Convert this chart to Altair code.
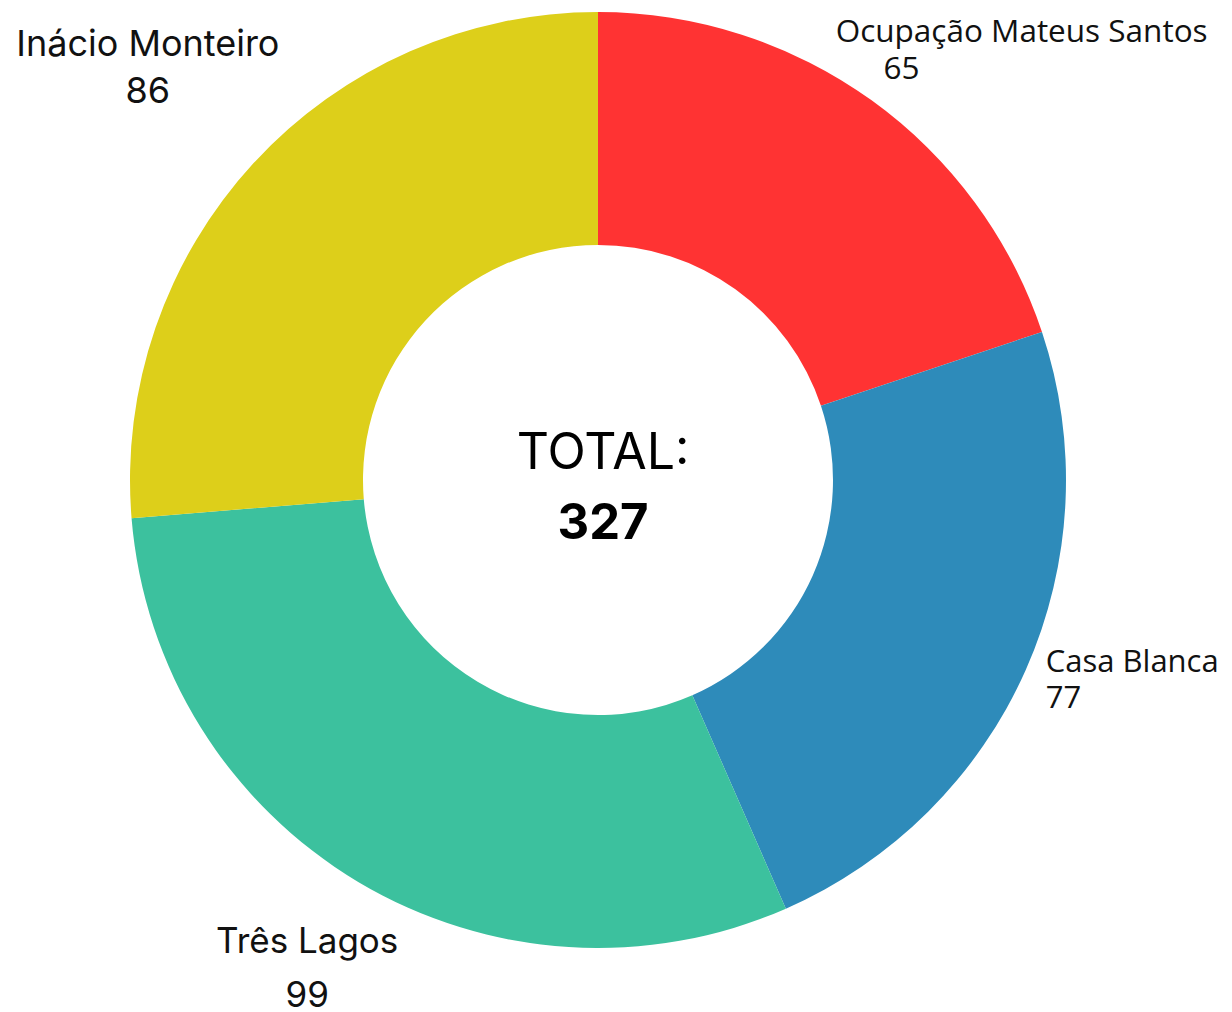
import altair as alt
import pandas as pd

categories = ["Ocupação Mateus Santos", "Casa Blanca", "Três Lagos", "Inácio Monteiro"]
values = [65, 77, 99, 86]
colors = ["#FF3333", "#2E8BBA", "#3CC19E", "#DDCF1A"]

df = pd.DataFrame({"cat": categories, "value": values, "order": list(range(len(categories)))})

OUTER = 468
INNER = 235

base = alt.Chart(df)

arcs = base.mark_arc(outerRadius=OUTER, innerRadius=INNER).encode(
    theta=alt.Theta("value:Q", stack=True),
    color=alt.Color("cat:N", scale=alt.Scale(domain=categories, range=colors), legend=None),
    order=alt.Order("order:Q"),
)

mid = base.transform_window(
    cum="sum(value)", sort=[alt.SortField("order")], frame=[None, 0]
).transform_joinaggregate(total="sum(value)").transform_calculate(
    mid="2*PI*(datum.cum - datum.value/2)/datum.total"
)

# label styling per category: (font, size, align, name dx, name dy, value dx, value dy)
label_style = {
    "Ocupação Mateus Santos": ("Open Sans", 31.5, "center", 150, -67, 30, -30),
    "Casa Blanca": ("Open Sans", 31, "left", 20, -7, 20, 29),
    "Três Lagos": ("Inter", 35, "center", -51, 60, -51, 114),
    "Inácio Monteiro": ("Inter", 36, "center", -106, -118, -106, -71),
}

layers = [arcs]
for cat, (font, size, align, ndx, ndy, vdx, vdy) in label_style.items():
    sub = mid.transform_filter(alt.datum.cat == cat)
    layers.append(
        sub.mark_text(font=font, fontSize=size, align=align, baseline="middle",
                      dx=ndx, dy=ndy, color="#111111").encode(
            theta=alt.Theta("mid:Q", scale=None),
            radius=alt.value(OUTER),
            text="cat:N",
        )
    )
    layers.append(
        sub.mark_text(font=font, fontSize=size, align=align, baseline="middle",
                      dx=vdx, dy=vdy, color="#111111").encode(
            theta=alt.Theta("mid:Q", scale=None),
            radius=alt.value(OUTER),
            text="value:Q",
        )
    )

total_base = base.transform_aggregate(total="sum(value)")
total_label = total_base.transform_calculate(lbl="'TOTAL:'").mark_text(
    font="Inter", fontSize=50, fontWeight=400, align="center", baseline="middle",
    dx=5, dy=-26, color="#000000"
).encode(theta=alt.value(0), radius=alt.value(0), text="lbl:N")
total_value = total_base.mark_text(
    font="Inter", fontSize=49, fontWeight="bold", align="center", baseline="middle",
    dx=5, dy=44, color="#000000"
).encode(theta=alt.value(0), radius=alt.value(0), text="total:Q")

layers += [total_label, total_value]

chart = alt.layer(*layers).properties(
    width=1180, height=944, padding=0,
    autosize=alt.AutoSizeParams(type="pad"),
).configure_view(stroke=None)

chart.save("out.html", embed_options={"renderer": "svg", "actions": False})
